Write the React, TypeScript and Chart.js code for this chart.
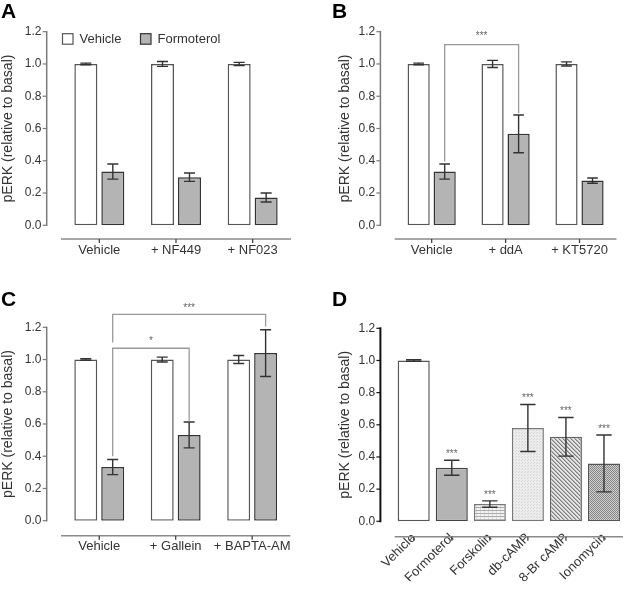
import React, { useEffect, useRef } from 'react';
import { Chart, registerables } from 'chart.js';
Chart.register(...registerables);

const FONT = '"Liberation Sans", Arial, Helvetica, sans-serif';
const TEXT = '#333333';

// ---------- Panel A ----------
const groupsA = ['Vehicle', '+ NF449', '+ NF023'];
const vehicleA = [1.0, 1.0, 1.0];
const vehicleErrA = [0.005, 0.015, 0.01];
const formoterolA = [0.333, 0.298, 0.172];
const formoterolErrA = [0.047, 0.026, 0.028];

// ---------- Panel B ----------
const groupsB = ['Vehicle', '+ ddA', '+ KT5720'];
const vehicleB = [1.0, 1.0, 1.0];
const vehicleErrB = [0.005, 0.022, 0.013];
const formoterolB = [0.333, 0.567, 0.277];
const formoterolErrB = [0.047, 0.117, 0.016];

// ---------- Panel C ----------
const groupsC = ['Vehicle', '+ Gallein', '+ BAPTA-AM'];
const vehicleC = [1.0, 1.0, 1.0];
const vehicleErrC = [0.005, 0.015, 0.025];
const formoterolC = [0.333, 0.532, 1.04];
const formoterolErrC = [0.047, 0.08, 0.145];

// ---------- Panel D ----------
const treatmentsD = ['Vehicle', 'Formoterol', 'Forskolin', 'db-cAMP', '8-Br cAMP', 'Ionomycin'];
const valuesD = [1.0, 0.333, 0.107, 0.58, 0.525, 0.36];
const errorsD = [0.005, 0.047, 0.02, 0.146, 0.12, 0.177];
const starsD = ['', '***', '***', '***', '***', '***'];

// ---------- shared ----------
const yMin = 0;
const yMax = 1.2;
const yStep = 0.2;
const yTitle = 'pERK (relative to basal)';
const legendLabels = ['Vehicle', 'Formoterol'];
const panelLetters = ['A', 'B', 'C', 'D'];

// significance brackets (values in y units)
const bracketsB = [{ from: 0, to: 1, top: 1.12, left: 0.395, right: 0.695, label: '***', labelY: 1.185 }];
const bracketsC = [
  { from: 0, to: 1, top: 1.07, left: 0.40, right: 0.62, label: '*', labelY: 1.125 },
  { from: 0, to: 2, top: 1.28, left: 1.105, right: 1.205, label: '***', labelY: 1.33 },
];

const WHITE_FILL = '#ffffff';
const WHITE_BORDER = '#555555';
const GRAY_FILL = '#b4b4b4';
const GRAY_BORDER = '#333333';

const axesPlugin = {
  id: 'gpAxes',
  afterDraw(chart: any, _args: any, o: any) {
    const { ctx, chartArea, scales } = chart;
    const y = scales.y;
    const x = scales.x;
    const ax = chartArea.left - o.yGap;
    const ay = chartArea.bottom + o.xGap;
    ctx.save();
    ctx.lineCap = 'butt';
    ctx.strokeStyle = o.yColor;
    ctx.lineWidth = o.yWidth;
    ctx.beginPath();
    ctx.moveTo(ax, y.getPixelForValue(yMin) + o.yWidth / 2);
    ctx.lineTo(ax, y.getPixelForValue(yMax) - o.yWidth / 2);
    ctx.stroke();
    ctx.lineWidth = 1.2;
    y.ticks.forEach((t: any) => {
      const py = y.getPixelForValue(t.value);
      ctx.beginPath();
      ctx.moveTo(ax - 4, py);
      ctx.lineTo(ax, py);
      ctx.stroke();
    });
    ctx.strokeStyle = '#8a8a8a';
    ctx.lineWidth = 1.5;
    ctx.beginPath();
    ctx.moveTo(chartArea.left, ay);
    ctx.lineTo(chartArea.right, ay);
    ctx.stroke();
    ctx.strokeStyle = '#444444';
    ctx.lineWidth = 1.3;
    x.ticks.forEach((_t: any, i: number) => {
      const px = x.getPixelForTick(i);
      ctx.beginPath();
      ctx.moveTo(px, ay);
      ctx.lineTo(px, ay + 4);
      ctx.stroke();
    });
    ctx.restore();
  },
};

const errorPlugin = {
  id: 'errBars',
  afterDatasetsDraw(chart: any) {
    const { ctx, scales } = chart;
    const y = scales.y;
    chart.data.datasets.forEach((ds: any, di: number) => {
      if (!ds.errors) return;
      const meta = chart.getDatasetMeta(di);
      meta.data.forEach((bar: any, i: number) => {
        const v = ds.data[i];
        const e = ds.errors[i];
        const top = y.getPixelForValue(v + e);
        const bot = y.getPixelForValue(v - e);
        const cw = bar.width * 0.24;
        ctx.save();
        ctx.strokeStyle = '#333333';
        ctx.lineWidth = 1.4;
        ctx.beginPath();
        ctx.moveTo(bar.x, top);
        ctx.lineTo(bar.x, bot);
        ctx.moveTo(bar.x - cw, top);
        ctx.lineTo(bar.x + cw, top);
        ctx.moveTo(bar.x - cw, bot);
        ctx.lineTo(bar.x + cw, bot);
        ctx.stroke();
        if (ds.stars && ds.stars[i]) {
          ctx.fillStyle = '#666666';
          ctx.font = `10px ${FONT}`;
          ctx.textAlign = 'center';
          ctx.textBaseline = 'middle';
          ctx.fillText(ds.stars[i], bar.x, top - 6);
        }
        ctx.restore();
      });
    });
  },
};

const bracketPlugin = {
  id: 'brackets',
  afterDraw(chart: any, _a: any, o: any) {
    if (!o || !o.items) return;
    const { ctx, scales } = chart;
    const y = scales.y;
    const meta = chart.getDatasetMeta(1);
    o.items.forEach((b: any) => {
      const x1 = meta.data[b.from].x;
      const x2 = meta.data[b.to].x;
      const yt = y.getPixelForValue(b.top);
      ctx.save();
      ctx.strokeStyle = '#9a9a9a';
      ctx.lineWidth = 1.3;
      ctx.beginPath();
      ctx.moveTo(x1, y.getPixelForValue(b.left));
      ctx.lineTo(x1, yt);
      ctx.lineTo(x2, yt);
      ctx.lineTo(x2, y.getPixelForValue(b.right));
      ctx.stroke();
      ctx.fillStyle = '#666666';
      ctx.font = `10px ${FONT}`;
      ctx.textAlign = 'center';
      ctx.textBaseline = 'middle';
      ctx.fillText(b.label, (x1 + x2) / 2, y.getPixelForValue(b.labelY) + 2);
      ctx.restore();
    });
  },
};

const legendPlugin = {
  id: 'gpLegend',
  afterDraw(chart: any, _a: any, o: any) {
    if (!o || !o.show) return;
    const { ctx, chartArea } = chart;
    const bx = chartArea.left + 1;
    const by = chartArea.top + 1.5;
    const items = [
      { x: bx, fill: WHITE_FILL, stroke: WHITE_BORDER, text: legendLabels[0] },
      { x: bx + 78, fill: GRAY_FILL, stroke: GRAY_BORDER, text: legendLabels[1] },
    ];
    ctx.save();
    items.forEach((it) => {
      ctx.fillStyle = it.fill;
      ctx.fillRect(it.x, by, 11, 11);
      ctx.strokeStyle = it.stroke;
      ctx.lineWidth = 1.2;
      ctx.strokeRect(it.x + 0.5, by + 0.5, 10.5, 10.5);
      ctx.fillStyle = TEXT;
      ctx.font = `13px ${FONT}`;
      ctx.textAlign = 'left';
      ctx.textBaseline = 'middle';
      ctx.fillText(it.text, it.x + 17.5, by + 6);
    });
    ctx.restore();
  },
};

function yScale(yWidth: number, titlePad: number) {
  return {
    min: yMin,
    max: yMax,
    ticks: {
      stepSize: yStep,
      callback: (v: any) => Number(v).toFixed(1),
      font: { family: FONT, size: 12 },
      color: TEXT,
      padding: 19.5,
    },
    grid: { display: false, drawTicks: false },
    border: { display: false },
    title: {
      display: true,
      text: yTitle,
      font: { family: FONT, size: 14 },
      color: TEXT,
      padding: { top: titlePad, bottom: 0 },
    },
    afterFit: (s: any) => {
      s.width = yWidth;
    },
  };
}

function xScale(xHeight: number, pad: number, rot: number) {
  return {
    ticks: {
      font: { family: FONT, size: 13 },
      color: TEXT,
      padding: pad,
      autoSkip: false,
      minRotation: rot,
      maxRotation: rot,
    },
    grid: { display: false, drawTicks: false },
    border: { display: false },
    afterFit: (s: any) => {
      s.height = xHeight;
    },
  };
}

function groupedConfig(
  labels: string[],
  veh: number[],
  vehErr: number[],
  form: number[],
  formErr: number[],
  layout: any,
  extra: any
) {
  return {
    type: 'bar',
    data: {
      labels,
      datasets: [
        {
          label: legendLabels[0],
          data: veh,
          errors: vehErr,
          backgroundColor: WHITE_FILL,
          borderColor: WHITE_BORDER,
          borderWidth: 1.5,
          borderSkipped: false,
          categoryPercentage: 0.704,
          barPercentage: 0.852,
        },
        {
          label: legendLabels[1],
          data: form,
          errors: formErr,
          backgroundColor: GRAY_FILL,
          borderColor: GRAY_BORDER,
          borderWidth: 1.5,
          borderSkipped: false,
          categoryPercentage: 0.704,
          barPercentage: 0.852,
        },
      ],
    },
    options: {
      responsive: false,
      animation: false,
      devicePixelRatio: 1,
      layout: { padding: layout.padding },
      scales: {
        x: xScale(layout.xHeight, layout.xPad, 0),
        y: yScale(layout.yWidth, layout.titlePad),
      },
      plugins: {
        legend: { display: false },
        tooltip: { enabled: false },
        gpAxes: { yGap: 14.3, xGap: layout.xGap, yColor: '#7a7a7a', yWidth: 1.5 },
        brackets: { items: extra.brackets || [] },
        gpLegend: { show: !!extra.legend },
      },
    },
    plugins: [axesPlugin, errorPlugin, bracketPlugin, legendPlugin],
  };
}

function makePattern(w: number, h: number, draw: (g: CanvasRenderingContext2D) => void) {
  const c = document.createElement('canvas');
  c.width = w;
  c.height = h;
  const g = c.getContext('2d')!;
  draw(g);
  return g.createPattern(c, 'repeat')!;
}

function configD() {
  const forsk = makePattern(4, 3, (g) => {
    g.fillStyle = '#f3f3f3';
    g.fillRect(0, 0, 4, 3);
    g.fillStyle = '#dadada';
    g.fillRect(0, 0, 1, 3);
    g.fillStyle = '#ababab';
    g.fillRect(0, 0, 4, 1);
  });
  const db = makePattern(3, 3, (g) => {
    g.fillStyle = '#ececec';
    g.fillRect(0, 0, 3, 3);
    g.fillStyle = '#d6d6d6';
    g.fillRect(0, 0, 1, 1);
    g.fillRect(2, 1, 1, 1);
  });
  const br = makePattern(4, 4, (g) => {
    g.fillStyle = '#e4e4e4';
    g.fillRect(0, 0, 4, 4);
    for (let i = 0; i < 4; i++) {
      g.fillStyle = '#7f7f7f';
      g.fillRect(i, i, 1, 1);
      g.fillStyle = '#b0b0b0';
      g.fillRect((i + 1) % 4, i, 1, 1);
    }
  });
  const iono = makePattern(2, 2, (g) => {
    g.fillStyle = '#d0d0d0';
    g.fillRect(0, 0, 2, 2);
    g.fillStyle = '#858585';
    g.fillRect(0, 0, 1, 1);
    g.fillRect(1, 1, 1, 1);
  });
  return {
    type: 'bar',
    data: {
      labels: treatmentsD,
      datasets: [
        {
          data: valuesD,
          errors: errorsD,
          stars: starsD,
          backgroundColor: [WHITE_FILL, GRAY_FILL, forsk, db, br, iono],
          borderColor: ['#555555', '#444444', '#777777', '#777777', '#666666', '#555555'],
          borderWidth: 1.5,
          borderSkipped: false,
          categoryPercentage: 1,
          barPercentage: 0.842,
        },
      ],
    },
    options: {
      responsive: false,
      animation: false,
      devicePixelRatio: 1,
      layout: { padding: { left: 0, right: 2, top: 28.3, bottom: 13.7 } },
      scales: {
        x: xScale(60, 9, 45),
        y: yScale(82.7, 25),
      },
      plugins: {
        legend: { display: false },
        tooltip: { enabled: false },
        gpAxes: { yGap: 14.3, xGap: 15.4, yColor: '#111111', yWidth: 2 },
      },
    },
    plugins: [axesPlugin, errorPlugin],
  };
}

function Panel(props: { left: number; top: number; width: number; height: number; build: () => any }) {
  const ref = useRef<HTMLCanvasElement>(null);
  useEffect(() => {
    const chart = new Chart(ref.current as HTMLCanvasElement, props.build());
    return () => chart.destroy();
  }, []);
  return (
    <canvas
      ref={ref}
      width={props.width}
      height={props.height}
      style={{ position: 'absolute', left: props.left, top: props.top, width: props.width, height: props.height }}
    />
  );
}

const letterStyle = (left: number, top: number): React.CSSProperties => ({
  position: 'absolute',
  left,
  top,
  fontFamily: FONT,
  fontWeight: 'bold',
  fontSize: 21,
  lineHeight: '21px',
  color: '#000',
});

export default function App() {
  return (
    <div style={{ position: 'fixed', left: 0, top: 0, width: 625, height: 595, background: '#fff', overflow: 'hidden' }}>
      <Panel
        left={0}
        top={0}
        width={312}
        height={300}
        build={() =>
          groupedConfig(groupsA, vehicleA, vehicleErrA, formoterolA, formoterolErrA,
            { padding: { left: 0, right: 21, top: 31.7, bottom: 24.7 }, xHeight: 50, xPad: 17, yWidth: 61, titlePad: 0, xGap: 13.7 },
            { legend: true })
        }
      />
      <Panel
        left={312}
        top={0}
        width={313}
        height={300}
        build={() =>
          groupedConfig(groupsB, vehicleB, vehicleErrB, formoterolB, formoterolErrB,
            { padding: { left: 0, right: 0.7, top: 31.7, bottom: 24.7 }, xHeight: 50, xPad: 17, yWidth: 82.7, titlePad: 25, xGap: 13.7 },
            { brackets: bracketsB })
        }
      />
      <Panel
        left={0}
        top={300}
        width={312}
        height={295}
        build={() =>
          groupedConfig(groupsC, vehicleC, vehicleErrC, formoterolC, formoterolErrC,
            { padding: { left: 0, right: 21, top: 27.3, bottom: 24.3 }, xHeight: 50, xPad: 18, yWidth: 61, titlePad: 0, xGap: 15 },
            { brackets: bracketsC })
        }
      />
      <Panel left={312} top={300} width={313} height={295} build={configD} />
      <div style={letterStyle(1, 0)}>{panelLetters[0]}</div>
      <div style={letterStyle(332, 0)}>{panelLetters[1]}</div>
      <div style={letterStyle(1, 288)}>{panelLetters[2]}</div>
      <div style={letterStyle(332, 288)}>{panelLetters[3]}</div>
    </div>
  );
}
